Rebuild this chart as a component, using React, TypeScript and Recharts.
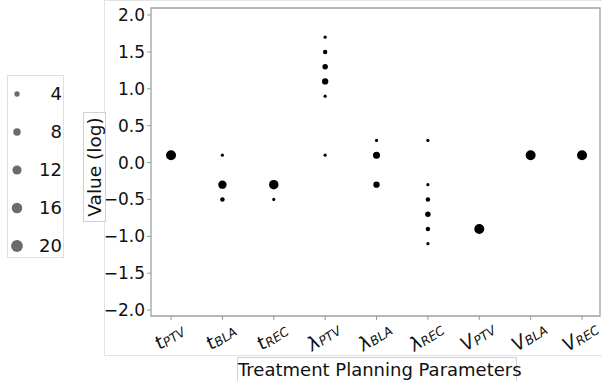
import React from "react";
import {
  ScatterChart,
  Scatter,
  XAxis,
  YAxis,
  ZAxis,
  ReferenceArea,
} from "recharts";

/* ================= DATA ================= */
const tickMain = ["t", "t", "t", "λ", "λ", "λ", "V", "V", "V"];
const tickSub = ["PTV", "BLA", "REC", "PTV", "BLA", "REC", "PTV", "BLA", "REC"];

// log values observed for each parameter
const paramValues: number[][] = [
  [0.1],
  [0.1, -0.3, -0.5],
  [-0.3, -0.5],
  [1.7, 1.5, 1.3, 1.1, 0.9, 0.1],
  [0.3, 0.1, -0.3],
  [0.3, -0.3, -0.5, -0.7, -0.9, -1.1],
  [-0.9],
  [0.1],
  [0.1],
];

// marker size for each value above
const paramSizes: number[][] = [
  [20],
  [2, 14, 4],
  [18, 2],
  [2, 4, 6, 8, 2, 2],
  [2, 10, 8],
  [2, 2, 4, 6, 4, 2],
  [20],
  [20],
  [20],
];

const legendSizes = [4, 8, 12, 16, 20];
const yTicks = [-2, -1.5, -1, -0.5, 0, 0.5, 1, 1.5, 2];

const X_DOMAIN: [number, number] = [-0.39, 8.35];
const Y_DOMAIN: [number, number] = [-2.08, 2.095];

const points = paramValues.flatMap((vals, i) =>
  vals.map((v, j) => ({ x: i, y: v, z: paramSizes[i][j] }))
);

const FONT = "'DejaVu Sans', sans-serif";
const TEXT = "#111";

/* ================= TICKS ================= */
function ParamTick({ x, y, payload }: any) {
  const i = payload.value as number;
  return (
    <g transform={`translate(${x - 2},${y + 14}) rotate(-33)`}>
      <text
        textAnchor="middle"
        dominantBaseline="central"
        fontFamily={FONT}
        fontStyle="italic"
        fill={TEXT}
      >
        <tspan fontSize={19}>{tickMain[i]}</tspan>
        <tspan fontSize={12.5} dy={3}>
          {tickSub[i]}
        </tspan>
      </text>
    </g>
  );
}

const fmtY = (v: number) => v.toFixed(1).replace("-", "\u2212");

/* ================= COMPONENT ================= */
export default function App() {
  return (
    <div
      style={{
        position: "absolute",
        left: 0,
        top: 0,
        width: 602,
        height: 381,
        fontFamily: FONT,
        color: TEXT,
        background: "#fff",
      }}
    >
      {/* outer frame */}
      <div
        style={{
          position: "absolute",
          left: 104,
          top: 0,
          width: 497,
          height: 354,
          border: "1px solid #e3e3e3",
        }}
      />

      <div style={{ position: "absolute", left: 0, top: 0 }}>
        <ScatterChart
          width={602}
          height={381}
          margin={{ top: 8, right: 2, bottom: 0, left: 0 }}
        >
          <XAxis
            type="number"
            dataKey="x"
            domain={X_DOMAIN}
            ticks={[0, 1, 2, 3, 4, 5, 6, 7, 8]}
            allowDataOverflow
            height={65}
            tickSize={4}
            axisLine={false}
            tickLine={{ stroke: "#999" }}
            tick={<ParamTick />}
            interval={0}
          />
          <YAxis
            type="number"
            dataKey="y"
            domain={Y_DOMAIN}
            ticks={yTicks}
            allowDataOverflow
            width={151}
            tickSize={4}
            axisLine={false}
            tickLine={{ stroke: "#999" }}
            tickFormatter={fmtY}
            tick={{ fill: TEXT, fontSize: 17, fontFamily: FONT }}
            interval={0}
          />
          <ZAxis type="number" dataKey="z" domain={[0, 20]} range={[0, 78.5]} />

          {/* plot border */}
          <ReferenceArea
            x1={X_DOMAIN[0]}
            x2={X_DOMAIN[1]}
            y1={Y_DOMAIN[0]}
            y2={Y_DOMAIN[1]}
            fill="none"
            stroke="#a0a0a0"
            strokeWidth={1.3}
            fillOpacity={0}
          />

          <Scatter
            data={points}
            fill="#000"
            shape="circle"
            isAnimationActive={false}
          />
        </ScatterChart>
      </div>

      {/* y label */}
      <div
        style={{
          position: "absolute",
          left: 83,
          top: 112,
          width: 21,
          height: 108,
          border: "1px solid #d0d0d0",
          background: "#fff",
        }}
      >
        <div
          style={{
            position: "absolute",
            left: "50%",
            top: "50%",
            transform: "translate(-50%, -50%) rotate(-90deg)",
            fontSize: 18.5,
            whiteSpace: "nowrap",
            lineHeight: "20px",
          }}
        >
          Value (log)
        </div>
      </div>

      {/* x label */}
      <div
        style={{
          position: "absolute",
          left: 237,
          top: 357,
          width: 278,
          height: 24,
          border: "1px solid #d0d0d0",
          background: "#fff",
          fontSize: 18,
          lineHeight: "23px",
          textAlign: "center",
          whiteSpace: "nowrap",
        }}
      >
        Treatment Planning Parameters
      </div>

      {/* size legend */}
      <div
        style={{
          position: "absolute",
          left: 7,
          top: 75,
          width: 55,
          height: 181,
          border: "1px solid #e0e0e0",
          background: "#fff",
        }}
      >
        {legendSizes.map((s, i) => {
          const r = 1.32 * Math.sqrt(s);
          return (
            <div
              key={s}
              style={{
                position: "absolute",
                left: 0,
                top: 18 + i * 38 - 11,
                width: 55,
                height: 22,
              }}
            >
              <svg
                width={20}
                height={22}
                style={{ position: "absolute", left: 0, top: 0 }}
              >
                <circle cx={9} cy={11} r={r} fill="#6b6b6b" />
              </svg>
              <div
                style={{
                  position: "absolute",
                  right: 1,
                  top: 0,
                  fontSize: 18,
                  lineHeight: "22px",
                }}
              >
                {s}
              </div>
            </div>
          );
        })}
      </div>
    </div>
  );
}
